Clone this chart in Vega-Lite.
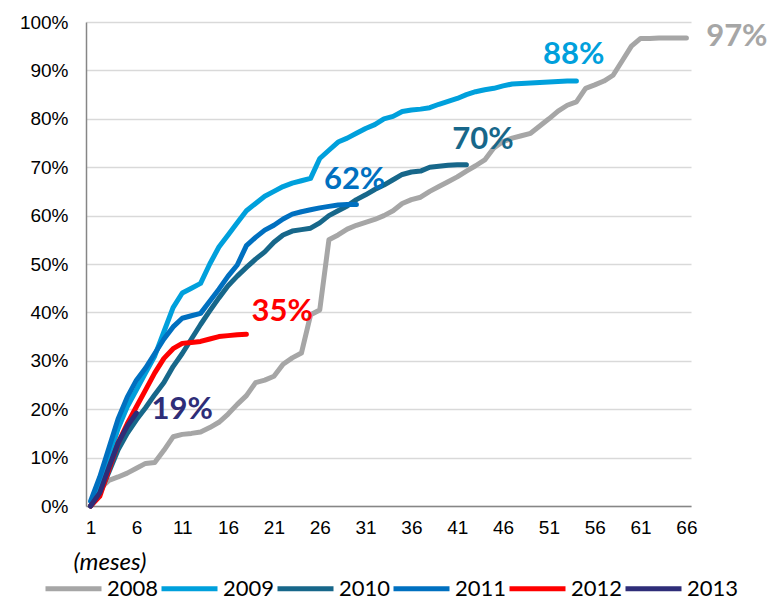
{
  "$schema": "https://vega.github.io/schema/vega-lite/v6.json",
  "autosize": "none",
  "width": 605,
  "height": 484,
  "padding": {"left": 86, "top": 22, "right": 81, "bottom": 94},
  "background": "white",
  "config": {
    "view": {"stroke": null},
    "font": "Liberation Sans"
  },
  "datasets": {
    "series": [
      {"year":"2008","month":1,"pct":0},{"year":"2008","month":2,"pct":3.5},{"year":"2008","month":3,"pct":5.3},{"year":"2008","month":4,"pct":6},{"year":"2008","month":5,"pct":6.8},{"year":"2008","month":6,"pct":7.8},{"year":"2008","month":7,"pct":8.8},{"year":"2008","month":8,"pct":9},{"year":"2008","month":9,"pct":11.5},{"year":"2008","month":10,"pct":14.3},{"year":"2008","month":11,"pct":14.8},{"year":"2008","month":12,"pct":15},{"year":"2008","month":13,"pct":15.3},{"year":"2008","month":14,"pct":16.2},{"year":"2008","month":15,"pct":17.3},{"year":"2008","month":16,"pct":19},{"year":"2008","month":17,"pct":21},{"year":"2008","month":18,"pct":22.8},{"year":"2008","month":19,"pct":25.5},{"year":"2008","month":20,"pct":26},{"year":"2008","month":21,"pct":26.8},{"year":"2008","month":22,"pct":29.3},{"year":"2008","month":23,"pct":30.6},{"year":"2008","month":24,"pct":31.6},{"year":"2008","month":25,"pct":39.5},{"year":"2008","month":26,"pct":40.5},{"year":"2008","month":27,"pct":55},{"year":"2008","month":28,"pct":56},{"year":"2008","month":29,"pct":57.2},{"year":"2008","month":30,"pct":58},{"year":"2008","month":31,"pct":58.6},{"year":"2008","month":32,"pct":59.2},{"year":"2008","month":33,"pct":60},{"year":"2008","month":34,"pct":61},{"year":"2008","month":35,"pct":62.5},{"year":"2008","month":36,"pct":63.3},{"year":"2008","month":37,"pct":63.8},{"year":"2008","month":38,"pct":65},{"year":"2008","month":39,"pct":66},{"year":"2008","month":40,"pct":67},{"year":"2008","month":41,"pct":68},{"year":"2008","month":42,"pct":69.2},{"year":"2008","month":43,"pct":70.3},{"year":"2008","month":44,"pct":71.5},{"year":"2008","month":45,"pct":74},{"year":"2008","month":46,"pct":75.3},{"year":"2008","month":47,"pct":76},{"year":"2008","month":48,"pct":76.5},{"year":"2008","month":49,"pct":77},{"year":"2008","month":50,"pct":78.5},{"year":"2008","month":51,"pct":80},{"year":"2008","month":52,"pct":81.6},{"year":"2008","month":53,"pct":82.8},{"year":"2008","month":54,"pct":83.5},{"year":"2008","month":55,"pct":86.3},{"year":"2008","month":56,"pct":87},{"year":"2008","month":57,"pct":87.8},{"year":"2008","month":58,"pct":89},{"year":"2008","month":59,"pct":92},{"year":"2008","month":60,"pct":95},{"year":"2008","month":61,"pct":96.6},{"year":"2008","month":62,"pct":96.6},{"year":"2008","month":63,"pct":96.7},{"year":"2008","month":64,"pct":96.7},{"year":"2008","month":65,"pct":96.7},{"year":"2008","month":66,"pct":96.7},
      {"year":"2009","month":1,"pct":0},{"year":"2009","month":2,"pct":4},{"year":"2009","month":3,"pct":10},{"year":"2009","month":4,"pct":16},{"year":"2009","month":5,"pct":20.5},{"year":"2009","month":6,"pct":24},{"year":"2009","month":7,"pct":27.5},{"year":"2009","month":8,"pct":31},{"year":"2009","month":9,"pct":36},{"year":"2009","month":10,"pct":41},{"year":"2009","month":11,"pct":44},{"year":"2009","month":12,"pct":45},{"year":"2009","month":13,"pct":46},{"year":"2009","month":14,"pct":50},{"year":"2009","month":15,"pct":53.5},{"year":"2009","month":16,"pct":56},{"year":"2009","month":17,"pct":58.5},{"year":"2009","month":18,"pct":61},{"year":"2009","month":19,"pct":62.5},{"year":"2009","month":20,"pct":64},{"year":"2009","month":21,"pct":65},{"year":"2009","month":22,"pct":66},{"year":"2009","month":23,"pct":66.7},{"year":"2009","month":24,"pct":67.2},{"year":"2009","month":25,"pct":67.7},{"year":"2009","month":26,"pct":71.8},{"year":"2009","month":27,"pct":73.5},{"year":"2009","month":28,"pct":75.2},{"year":"2009","month":29,"pct":76},{"year":"2009","month":30,"pct":77},{"year":"2009","month":31,"pct":78},{"year":"2009","month":32,"pct":78.8},{"year":"2009","month":33,"pct":80},{"year":"2009","month":34,"pct":80.5},{"year":"2009","month":35,"pct":81.5},{"year":"2009","month":36,"pct":81.8},{"year":"2009","month":37,"pct":82},{"year":"2009","month":38,"pct":82.3},{"year":"2009","month":39,"pct":83},{"year":"2009","month":40,"pct":83.6},{"year":"2009","month":41,"pct":84.2},{"year":"2009","month":42,"pct":85},{"year":"2009","month":43,"pct":85.6},{"year":"2009","month":44,"pct":86},{"year":"2009","month":45,"pct":86.3},{"year":"2009","month":46,"pct":86.8},{"year":"2009","month":47,"pct":87.2},{"year":"2009","month":48,"pct":87.3},{"year":"2009","month":49,"pct":87.4},{"year":"2009","month":50,"pct":87.5},{"year":"2009","month":51,"pct":87.6},{"year":"2009","month":52,"pct":87.7},{"year":"2009","month":53,"pct":87.8},{"year":"2009","month":54,"pct":87.8},
      {"year":"2010","month":1,"pct":0},{"year":"2010","month":2,"pct":2.5},{"year":"2010","month":3,"pct":7},{"year":"2010","month":4,"pct":11.6},{"year":"2010","month":5,"pct":15},{"year":"2010","month":6,"pct":17.8},{"year":"2010","month":7,"pct":20.3},{"year":"2010","month":8,"pct":23},{"year":"2010","month":9,"pct":25.5},{"year":"2010","month":10,"pct":28.8},{"year":"2010","month":11,"pct":31.5},{"year":"2010","month":12,"pct":34.5},{"year":"2010","month":13,"pct":37.5},{"year":"2010","month":14,"pct":40.3},{"year":"2010","month":15,"pct":43},{"year":"2010","month":16,"pct":45.5},{"year":"2010","month":17,"pct":47.5},{"year":"2010","month":18,"pct":49.3},{"year":"2010","month":19,"pct":51},{"year":"2010","month":20,"pct":52.5},{"year":"2010","month":21,"pct":54.5},{"year":"2010","month":22,"pct":56},{"year":"2010","month":23,"pct":56.8},{"year":"2010","month":24,"pct":57.1},{"year":"2010","month":25,"pct":57.4},{"year":"2010","month":26,"pct":58.5},{"year":"2010","month":27,"pct":60},{"year":"2010","month":28,"pct":61},{"year":"2010","month":29,"pct":62},{"year":"2010","month":30,"pct":63.3},{"year":"2010","month":31,"pct":64.3},{"year":"2010","month":32,"pct":65.4},{"year":"2010","month":33,"pct":66.3},{"year":"2010","month":34,"pct":67.4},{"year":"2010","month":35,"pct":68.5},{"year":"2010","month":36,"pct":69},{"year":"2010","month":37,"pct":69.2},{"year":"2010","month":38,"pct":70},{"year":"2010","month":39,"pct":70.2},{"year":"2010","month":40,"pct":70.4},{"year":"2010","month":41,"pct":70.5},{"year":"2010","month":42,"pct":70.5},
      {"year":"2011","month":1,"pct":1},{"year":"2011","month":2,"pct":6},{"year":"2011","month":3,"pct":12},{"year":"2011","month":4,"pct":18},{"year":"2011","month":5,"pct":22.5},{"year":"2011","month":6,"pct":26},{"year":"2011","month":7,"pct":28.5},{"year":"2011","month":8,"pct":31.5},{"year":"2011","month":9,"pct":34.5},{"year":"2011","month":10,"pct":37},{"year":"2011","month":11,"pct":38.8},{"year":"2011","month":12,"pct":39.3},{"year":"2011","month":13,"pct":39.8},{"year":"2011","month":14,"pct":42.3},{"year":"2011","month":15,"pct":44.8},{"year":"2011","month":16,"pct":47.5},{"year":"2011","month":17,"pct":49.8},{"year":"2011","month":18,"pct":53.8},{"year":"2011","month":19,"pct":55.5},{"year":"2011","month":20,"pct":57},{"year":"2011","month":21,"pct":58},{"year":"2011","month":22,"pct":59.3},{"year":"2011","month":23,"pct":60.3},{"year":"2011","month":24,"pct":60.8},{"year":"2011","month":25,"pct":61.2},{"year":"2011","month":26,"pct":61.6},{"year":"2011","month":27,"pct":61.9},{"year":"2011","month":28,"pct":62.2},{"year":"2011","month":29,"pct":62.3},{"year":"2011","month":30,"pct":62.3},
      {"year":"2012","month":1,"pct":0},{"year":"2012","month":2,"pct":2},{"year":"2012","month":3,"pct":7.5},{"year":"2012","month":4,"pct":13},{"year":"2012","month":5,"pct":17},{"year":"2012","month":6,"pct":20.5},{"year":"2012","month":7,"pct":24},{"year":"2012","month":8,"pct":27.5},{"year":"2012","month":9,"pct":30.5},{"year":"2012","month":10,"pct":32.5},{"year":"2012","month":11,"pct":33.6},{"year":"2012","month":12,"pct":33.8},{"year":"2012","month":13,"pct":34},{"year":"2012","month":14,"pct":34.5},{"year":"2012","month":15,"pct":35},{"year":"2012","month":16,"pct":35.2},{"year":"2012","month":17,"pct":35.4},{"year":"2012","month":18,"pct":35.5},
      {"year":"2013","month":1,"pct":0},{"year":"2013","month":2,"pct":2.7},{"year":"2013","month":3,"pct":8},{"year":"2013","month":4,"pct":13},{"year":"2013","month":5,"pct":16.5},{"year":"2013","month":6,"pct":19.2}
    ],
    "labels": [
      {"year":"2008","month":71.5,"pct":96.8,"label":"97%"},
      {"year":"2009","month":53.7,"pct":93.2,"label":"88%"},
      {"year":"2010","month":43.8,"pct":75.6,"label":"70%"},
      {"year":"2011","month":29.8,"pct":67.4,"label":"62%"},
      {"year":"2012","month":21.9,"pct":40,"label":"35%"},
      {"year":"2013","month":11,"pct":19.8,"label":"19%"}
    ]
  },
  "encoding": {
    "x": {
      "field": "month", "type": "quantitative",
      "scale": {"domain": [0.5, 66.5], "nice": false, "zero": false},
      "axis": {
        "values": [1,6,11,16,21,26,31,36,41,46,51,56,61,66],
        "grid": false, "ticks": false,
        "domainColor": "#868686", "domainWidth": 1.5,
        "labelFont": "Liberation Sans", "labelFontSize": 19, "labelColor": "#000000",
        "labelPadding": 12,
        "title": "(meses)", "titleFont": "Lato", "titleFontStyle": "italic", "titleFontWeight": "normal",
        "titleFontSize": 24, "titleColor": "#000000",
        "titleAlign": "left", "titleAnchor": "start", "titleX": -13, "titleY": 44, "titleBaseline": "top"
      }
    },
    "y": {
      "field": "pct", "type": "quantitative",
      "scale": {"domain": [0, 100], "nice": false},
      "axis": {
        "values": [0,10,20,30,40,50,60,70,80,90,100],
        "labelExpr": "datum.value + '%'",
        "grid": true, "gridColor": "#D9D9D9", "gridWidth": 1.5,
        "ticks": false, "domainColor": "#868686", "domainWidth": 1.5,
        "labelFont": "Liberation Sans", "labelFontSize": 19, "labelColor": "#000000",
        "labelPadding": 18, "title": null
      }
    },
    "color": {
      "field": "year", "type": "nominal",
      "scale": {
        "domain": ["2008","2009","2010","2011","2012","2013"],
        "range": ["#A6A6A6","#00A0DC","#17678A","#0070C0","#FF0000","#2E2D78"]
      }
    }
  },
  "layer": [
    {
      "data": {"name": "series"},
      "mark": {"type": "line", "strokeWidth": 5, "strokeJoin": "round", "strokeCap": "round"},
      "encoding": {
        "color": {
          "field": "year", "type": "nominal",
          "legend": {
            "orient": "none", "legendX": -43, "legendY": 536,
            "direction": "horizontal", "columns": 6, "title": null,
            "symbolType": "stroke", "symbolSize": 3136, "symbolStrokeWidth": 5,
            "labelFont": "Lato", "labelFontSize": 22, "labelColor": "#000000",
            "labelOffset": 3, "columnPadding": -8
          }
        }
      }
    },
    {
      "data": {"name": "labels"},
      "mark": {"type": "text", "font": "Lato", "fontWeight": "bold", "fontSize": 31, "baseline": "middle", "align": "center"},
      "encoding": {
        "text": {"field": "label"}
      }
    }
  ]
}
